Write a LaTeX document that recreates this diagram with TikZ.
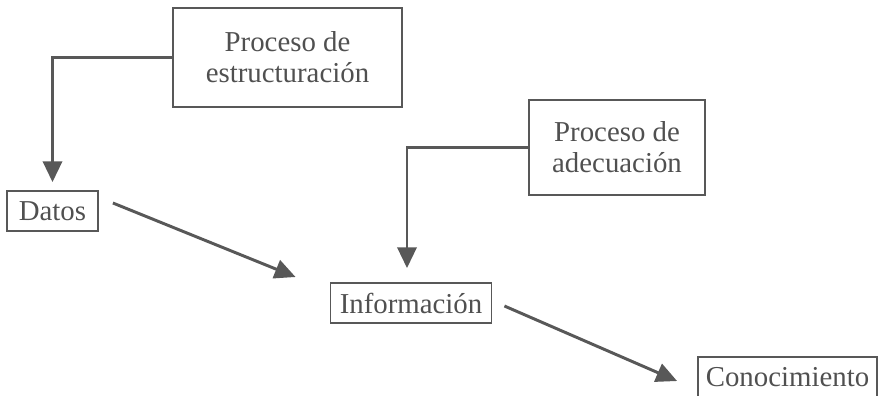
\documentclass[tikz,border=0pt]{standalone}
\usepackage{fontspec}
\setmainfont{Liberation Serif}
\usepackage{xcolor}
\usetikzlibrary{arrows.meta,positioning,calc}
\definecolor{ink}{RGB}{80,80,80}
\definecolor{wire}{RGB}{88,88,88}
\tikzset{
  procbox/.style={rectangle,draw=wire,line width=1.6pt,text=ink,align=center,
    font=\fontsize{20.5}{22}\selectfont},
  termbox/.style={rectangle,draw=wire,line width=1.3pt,text=ink,
    minimum height=1cm,inner sep=2pt,font=\fontsize{20.5}{22}\selectfont},
  flow/.style={-{Triangle[length=0.52cm,width=0.48cm]},line width=2.1pt,draw=wire},
}
\begin{document}
\begin{tikzpicture}[x=0.025cm,y=-0.025cm]
\useasboundingbox (0,0) rectangle (880,395);

% process boxes
\node[procbox,minimum width=5.725cm,minimum height=2.475cm] (estr) at (287.5,57.5)
  {Proceso de\\estructuración};
\node[procbox,minimum width=4.4cm,minimum height=2.375cm] (adec) at (617,147.5)
  {Proceso de\\adecuación};

% the chain
\node[termbox,minimum width=2.275cm] (datos) at (52.5,211) {Datos};
\node[termbox,minimum width=4.025cm] (info) at (411,303) {Información};
\node[termbox,minimum width=4.475cm] (cono) at (787.5,377) {Conocimiento};

% process arrows
\draw[flow,shorten >=0.2cm] (estr.west) -| (datos.north);
\draw[flow,shorten >=0.35cm] (adec.west) -| ($(info.north)+(-4,0)$);

% chain arrows
\draw[flow] ($(datos.east)+(14,-8)$) -- ($(info.west)+(-34,-26)$);
\draw[flow] ($(info.east)+(12,3)$) -- ($(cono.west)+(-20,4)$);
\end{tikzpicture}
\end{document}
